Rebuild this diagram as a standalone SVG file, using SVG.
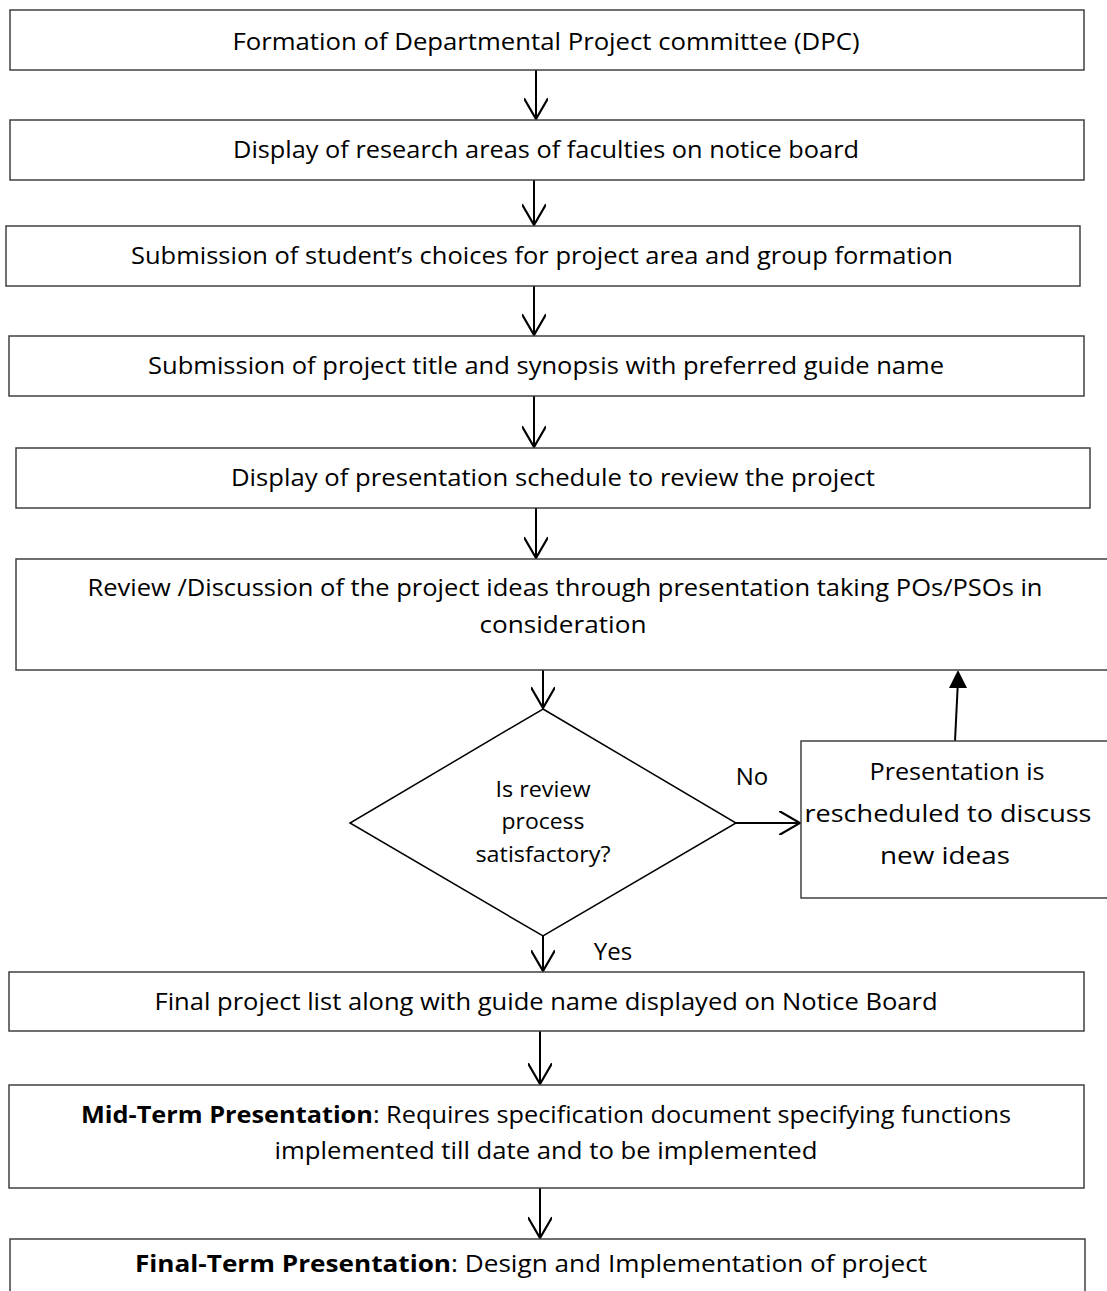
<svg xmlns="http://www.w3.org/2000/svg" width="1107" height="1291" viewBox="0 0 1107 1291">
<style>
.box{fill:#fff;stroke:#404040;stroke-width:1.5}
.dia{fill:#fff;stroke:#000;stroke-width:1.5}
.t{font-family:"Open Sans","Liberation Sans",sans-serif;font-size:24px;fill:#000;text-anchor:middle}
.s{font-family:"Open Sans","Liberation Sans",sans-serif;font-size:22px;fill:#000;text-anchor:middle}
.b{font-weight:bold}
.ln{stroke:#000;stroke-width:2;fill:none}
</style>
<defs>
<marker id="open" markerWidth="24" markerHeight="24" refX="20" refY="11" orient="auto" markerUnits="userSpaceOnUse" viewBox="0 0 22 22">
<polyline points="1,0 20,11 1,22" fill="none" stroke="#000" stroke-width="2"/>
</marker>
</defs>

<g id="connectors">
<line class="ln" x1="536" y1="70" x2="536" y2="119" marker-end="url(#open)"/>
<line class="ln" x1="534" y1="180" x2="534" y2="225" marker-end="url(#open)"/>
<line class="ln" x1="534" y1="286" x2="534" y2="335" marker-end="url(#open)"/>
<line class="ln" x1="534" y1="396" x2="534" y2="447" marker-end="url(#open)"/>
<line class="ln" x1="536" y1="508" x2="536" y2="558" marker-end="url(#open)"/>
<line class="ln" x1="543" y1="670" x2="543" y2="708" marker-end="url(#open)"/>
<line class="ln" x1="736" y1="823" x2="800" y2="823" marker-end="url(#open)"/>
<line class="ln" x1="955" y1="741" x2="958" y2="680"/>
<polygon points="958,670 967,688 949,688" fill="#000"/>
<line class="ln" x1="543" y1="936" x2="543" y2="971" marker-end="url(#open)"/>
<line class="ln" x1="540" y1="1031" x2="540" y2="1084" marker-end="url(#open)"/>
<line class="ln" x1="540" y1="1188" x2="540" y2="1238" marker-end="url(#open)"/>
<text class="t" x="752" y="785">No</text>
<text class="t" x="613" y="960">Yes</text>
</g>

<g id="n1">
<rect class="box" x="10" y="10" width="1074" height="60"/>
<text class="t" x="546" y="50" textLength="627" lengthAdjust="spacingAndGlyphs">Formation of Departmental Project committee (DPC)</text>
</g>
<g id="n2">
<rect class="box" x="10" y="120" width="1074" height="60"/>
<text class="t" x="546" y="158" textLength="626" lengthAdjust="spacingAndGlyphs">Display of research areas of faculties on notice board</text>
</g>
<g id="n3">
<rect class="box" x="6" y="226" width="1074" height="60"/>
<text class="t" x="542" y="264" textLength="822" lengthAdjust="spacingAndGlyphs">Submission of student’s choices for project area and group formation</text>
</g>
<g id="n4">
<rect class="box" x="9" y="336" width="1075" height="60"/>
<text class="t" x="546" y="374" textLength="796" lengthAdjust="spacingAndGlyphs">Submission of project title and synopsis with preferred guide name</text>
</g>
<g id="n5">
<rect class="box" x="16" y="448" width="1074" height="60"/>
<text class="t" x="553" y="486" textLength="644" lengthAdjust="spacingAndGlyphs">Display of presentation schedule to review the project</text>
</g>
<g id="n6">
<rect class="box" x="16" y="559" width="1100" height="111"/>
<text class="t" x="565" y="596" textLength="955" lengthAdjust="spacingAndGlyphs">Review /Discussion of the project ideas through presentation taking POs/PSOs in</text>
<text class="t" x="563" y="633" textLength="167" lengthAdjust="spacingAndGlyphs">consideration</text>
</g>
<g id="n7">
<polygon class="dia" points="543,709 736,823 543,936 350,823"/>
<text class="s" x="543" y="797" textLength="95" lengthAdjust="spacingAndGlyphs">Is review</text>
<text class="s" x="543" y="829" textLength="83" lengthAdjust="spacingAndGlyphs">process</text>
<text class="s" x="543" y="862" textLength="135" lengthAdjust="spacingAndGlyphs">satisfactory?</text>
</g>
<g id="n8">
<rect class="box" x="801" y="741" width="320" height="157"/>
<text class="t" x="957" y="780" textLength="175" lengthAdjust="spacingAndGlyphs">Presentation is</text>
<text class="t" x="948" y="822" textLength="287" lengthAdjust="spacingAndGlyphs">rescheduled to discuss</text>
<text class="t" x="945" y="864" textLength="130" lengthAdjust="spacingAndGlyphs">new ideas</text>
</g>
<g id="n9">
<rect class="box" x="9" y="972" width="1075" height="59"/>
<text class="t" x="546" y="1010" textLength="783" lengthAdjust="spacingAndGlyphs">Final project list along with guide name displayed on Notice Board</text>
</g>
<g id="n10">
<rect class="box" x="9" y="1085" width="1075" height="103"/>
<text class="t" x="546" y="1123" textLength="930" lengthAdjust="spacingAndGlyphs"><tspan class="b">Mid-Term Presentation</tspan>: Requires specification document specifying functions</text>
<text class="t" x="546" y="1159" textLength="543" lengthAdjust="spacingAndGlyphs">implemented till date and to be implemented</text>
</g>
<g id="n11">
<rect class="box" x="10" y="1239" width="1075" height="80"/>
<text class="t" x="531" y="1272" textLength="792" lengthAdjust="spacingAndGlyphs"><tspan class="b">Final-Term Presentation</tspan>: Design and Implementation of project</text>
</g>
</svg>
